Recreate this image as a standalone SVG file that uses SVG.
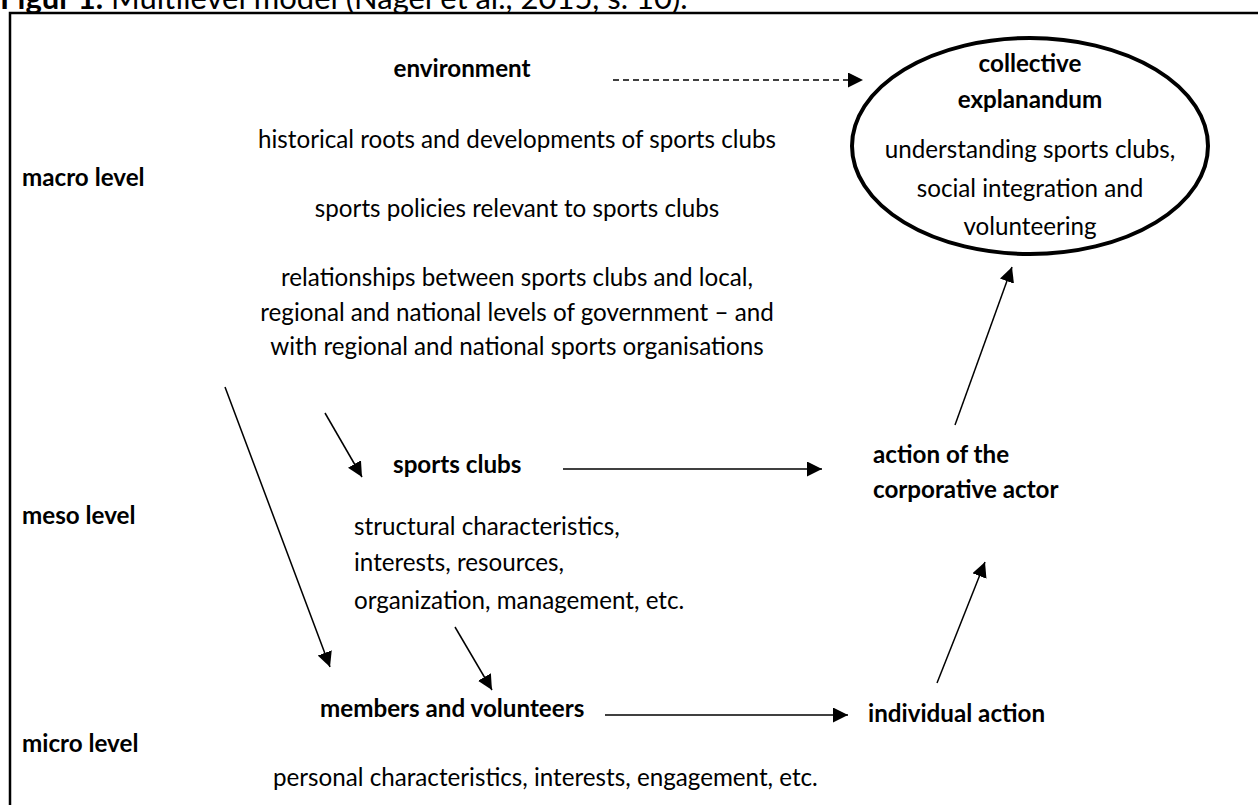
<svg xmlns="http://www.w3.org/2000/svg" width="1258" height="805" viewBox="0 0 1258 805">
<style>
text{font-family:Lato,"Liberation Sans",sans-serif;font-size:24.2px;fill:#000}
.b{font-weight:bold}
.m{text-anchor:middle}
.c{stroke:#000;stroke-width:1.5;fill:none}
</style>
<defs>
<marker id="ah" markerUnits="userSpaceOnUse" markerWidth="16" markerHeight="16" refX="15" refY="7.5" orient="auto"><path d="M0,0 L15,7.5 L0,15 z" fill="#000"/></marker>
</defs>
<rect width="1258" height="805" fill="#fff"/>
<text x="0" y="9" style="font-size:31px"><tspan class="b">Figur 1.</tspan> Multilevel model (Nagel et al., 2015, s. 10).</text>
<path d="M10,805 V13 H1258" fill="none" stroke="#000" stroke-width="2.5"/>
<g id="connectors">
<path class="c" d="M613,80 H863" stroke-dasharray="6,4" marker-end="url(#ah)"/>
<path class="c" d="M563,469 H822" marker-end="url(#ah)"/>
<path class="c" d="M605,715 H848" marker-end="url(#ah)"/>
<path class="c" d="M225,387 L330,667" marker-end="url(#ah)"/>
<path class="c" d="M325,413 L362,477" marker-end="url(#ah)"/>
<path class="c" d="M455,627 L492,690" marker-end="url(#ah)"/>
<path class="c" d="M937,683 L985,562" marker-end="url(#ah)"/>
<path class="c" d="M955,425 L1012,267" marker-end="url(#ah)"/>
</g>
<g id="levels">
<text class="b" x="22" y="186">macro level</text>
<text class="b" x="22" y="524">meso level</text>
<text class="b" x="22" y="752">micro level</text>
</g>
<g id="environment">
<text class="b m" x="462" y="77">environment</text>
<text class="m" x="517" y="148">historical roots and developments of sports clubs</text>
<text class="m" x="517" y="217">sports policies relevant to sports clubs</text>
<text class="m" x="517" y="286">relationships between sports clubs and local,</text>
<text class="m" x="517" y="321">regional and national levels of government – and</text>
<text class="m" x="517" y="355">with regional and national sports organisations</text>
</g>
<g id="explanandum">
<ellipse cx="1030" cy="146" rx="178" ry="108" fill="none" stroke="#000" stroke-width="4"/>
<text class="b m" x="1030" y="72">collective</text>
<text class="b m" x="1030" y="108">explanandum</text>
<text class="m" x="1030" y="158">understanding sports clubs,</text>
<text class="m" x="1030" y="197">social integration and</text>
<text class="m" x="1030" y="235">volunteering</text>
</g>
<g id="sports-clubs">
<text class="b" x="393" y="473">sports clubs</text>
<text x="354" y="535">structural characteristics,</text>
<text x="354" y="571">interests, resources,</text>
<text x="354" y="609">organization, management, etc.</text>
</g>
<g id="corporative-action">
<text class="b" x="873" y="463">action of the</text>
<text class="b" x="873" y="498">corporative actor</text>
</g>
<g id="members">
<text class="b" x="320" y="717">members and volunteers</text>
<text x="273" y="786">personal characteristics, interests, engagement, etc.</text>
</g>
<g id="individual-action">
<text class="b" x="868" y="722">individual action</text>
</g>
</svg>
